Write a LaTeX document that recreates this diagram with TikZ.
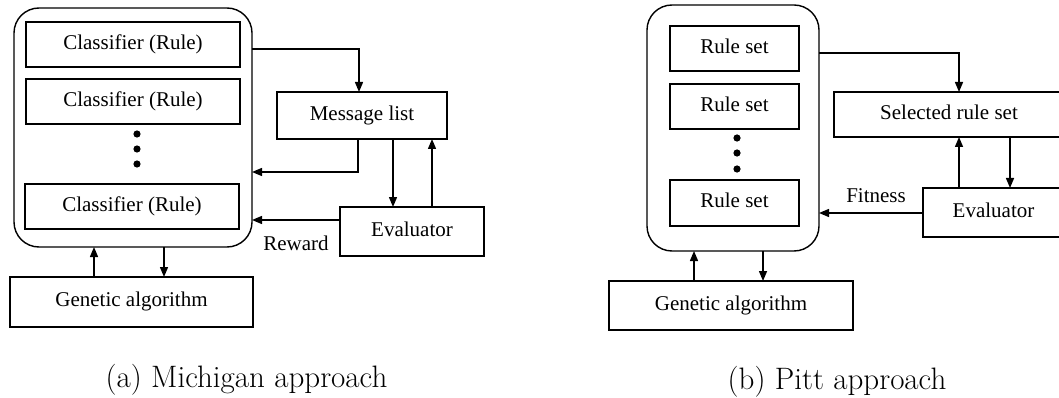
\documentclass[tikz,border=0pt]{standalone}
\usepackage{fontspec}
\newfontfamily\nodefont{Liberation Serif}
\newfontfamily\capfont{Latin Modern Roman}
\usetikzlibrary{arrows.meta}

\tikzset{
  box/.style={draw, line width=1.4pt, inner sep=0pt, outer sep=0pt,
    font=\nodefont\fontsize{21}{25}\selectfont,
    text height=14pt, text depth=4.5pt},
  holder/.style={draw, line width=1.4pt, rounded corners=25pt,
    inner sep=0pt, outer sep=0pt},
  arr/.style={line width=1.4pt, -{Triangle[length=10pt,width=8pt]}},
  dotmark/.style={fill=black},
  lbl/.style={font=\nodefont\fontsize{21}{25}\selectfont, inner sep=0pt},
  captext/.style={font=\capfont\fontsize{31}{37}\selectfont, inner sep=0pt, anchor=base}
}

\begin{document}
\begin{tikzpicture}[x=1pt, y=-1pt]
\useasboundingbox (0,0) rectangle (1059,398);

% ---------- (a) Michigan approach ----------
\node[holder, minimum width=238pt, minimum height=239pt] (C1) at (133,127.5) {};
\node[box, minimum width=214pt, minimum height=45pt] (cls1) at (133,44.5) {Classifier (Rule)};
\node[box, minimum width=214pt, minimum height=45pt] (cls2) at (133,101.5) {Classifier (Rule)};
\node[box, minimum width=214pt, minimum height=45pt] (cls3) at (132,206.5) {Classifier (Rule)};
\fill[dotmark] (137,134) circle (3.6pt) (137,149) circle (3.6pt) (137,164) circle (3.6pt);

\node[box, minimum width=170pt, minimum height=47pt] (ML) at (362,115.5) {Message list};
\node[box, minimum width=144pt, minimum height=49pt] (E1) at (412,231.5) {Evaluator};
\node[box, minimum width=243pt, minimum height=50pt] (GA1) at (131.5,302) {Genetic algorithm};
\node[lbl] (rew) at (296,243) {Reward};

\draw[arr] (C1.east |- 0,49) -| (ML.north -| 359,0);
\draw[arr] (ML.south -| 358,0) |- (C1.east |- 0,172);
\draw[arr] (ML.south -| 393,0) -- (E1.north -| 393,0);
\draw[arr] (E1.north -| 432,0) -- (ML.south -| 432,0);
\draw[arr] (E1.west |- 0,220) -- (C1.east |- 0,220);
\draw[arr] (GA1.north -| 94,0) -- (C1.south -| 94,0);
\draw[arr] (C1.south -| 164,0) -- (GA1.north -| 164,0);

\node[captext] (capa) at (246.5,387) {(a) Michigan approach};

% ---------- (b) Pitt approach ----------
\node[holder, minimum width=172pt, minimum height=246pt] (C2) at (733,128) {};
\node[box, minimum width=129pt, minimum height=45pt] (rs1) at (734.5,48.5) {Rule set};
\node[box, minimum width=129pt, minimum height=45pt] (rs2) at (734.5,106.5) {Rule set};
\node[box, minimum width=129pt, minimum height=46pt] (rs3) at (734.5,203) {Rule set};
\fill[dotmark] (737,138) circle (3.6pt) (737,153) circle (3.6pt) (737,169) circle (3.6pt);

\node[box, minimum width=230pt, minimum height=45pt] (SRS) at (949,114.5) {Selected rule set};
\node[box, minimum width=141pt, minimum height=49pt] (E2) at (993.5,212.5) {Evaluator};
\node[box, minimum width=244pt, minimum height=49pt] (GA2) at (731,305.5) {Genetic algorithm};
\node[lbl] (fit) at (876,196) {Fitness};

\draw[arr] (C2.east |- 0,53) -| (SRS.north -| 959,0);
\draw[arr] (E2.north -| 959,0) -- (SRS.south -| 959,0);
\draw[arr] (SRS.south -| 1010,0) -- (E2.north -| 1010,0);
\draw[arr] (E2.west |- 0,213) -- (C2.east |- 0,213);
\draw[arr] (GA2.north -| 694,0) -- (C2.south -| 694,0);
\draw[arr] (C2.south -| 763,0) -- (GA2.north -| 763,0);

\node[captext] (capb) at (837,389) {(b) Pitt approach};
\end{tikzpicture}
\end{document}
